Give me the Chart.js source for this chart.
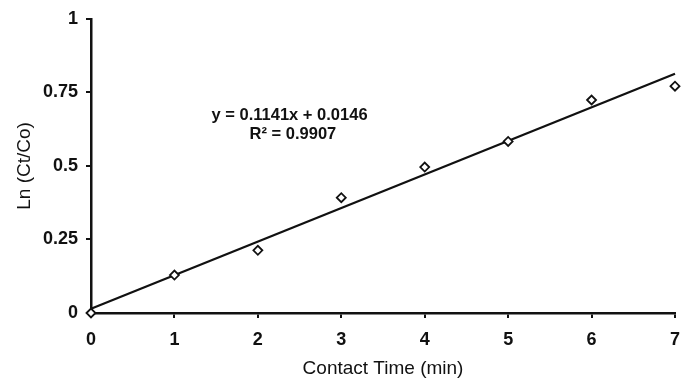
<!DOCTYPE html>
<html>
<head>
<meta charset="utf-8">
<script src="https://cdn.jsdelivr.net/npm/chart.js@4"></script>
<style>
  html, body { margin: 0; padding: 0; background: #fff; }
  #wrap { width: 693px; height: 383px; }
</style>
</head>
<body>
<div id="wrap"><canvas id="kinetics-chart"></canvas></div>
<script>
// contact time (min) and measured Ln(Ct/Co)
var contactTime = [0, 1, 2, 3, 4, 5, 6, 7];
var lnRatio = [0, 0.129, 0.213, 0.392, 0.496, 0.583, 0.724, 0.771];

// linear fit as stated on the chart
var slope = 0.1141;
var intercept = 0.0146;
var rSquared = 0.9907;
var fitRange = [0, 7];

var xTickLabels = ["0", "1", "2", "3", "4", "5", "6", "7"];
var yTickLabels = ["0", "0.25", "0.5", "0.75", "1"];

var points = contactTime.map(function (t, i) { return { x: t, y: lnRatio[i] }; });
var fitLine = fitRange.map(function (t) { return { x: t, y: slope * t + intercept }; });

var eqLines = [
  "y = " + slope + "x + " + intercept,
  "R\u00B2 = " + rSquared
];

// equation text, anchored in data coordinates
var eqPlugin = {
  id: "equation",
  afterDatasetsDraw: function (chart) {
    var c = chart.ctx, xs = chart.scales.x, ys = chart.scales.y;
    c.save();
    c.font = "bold 16.5px 'Liberation Sans', Arial, sans-serif";
    c.fillStyle = "#111";
    c.textAlign = "center";
    c.textBaseline = "middle";
    c.fillText(eqLines[0], xs.getPixelForValue(2.38), ys.getPixelForValue(0.672));
    c.fillText(eqLines[1], xs.getPixelForValue(2.42), ys.getPixelForValue(0.608));
    c.restore();
  }
};

var tickFont = { family: "'Liberation Sans', Arial, sans-serif", size: 18, weight: "bold" };
var titleFont = { family: "'Liberation Sans', Arial, sans-serif", size: 19 };

var ctx = document.getElementById("kinetics-chart").getContext("2d");
new Chart(ctx, {
  type: "scatter",
  data: {
    datasets: [
      {
        label: "Ln (Ct/Co)",
        data: points,
        pointStyle: "rectRot",
        pointRadius: 4.5,
        pointBackgroundColor: "#fff",
        pointBorderColor: "#111",
        pointBorderWidth: 1.8,
        showLine: false,
        clip: false,
        order: 1
      },
      {
        label: "Linear fit",
        data: fitLine,
        type: "line",
        borderColor: "#111",
        borderWidth: 2.3,
        pointRadius: 0,
        fill: false,
        clip: false,
        order: 2
      }
    ]
  },
  options: {
    responsive: true,
    maintainAspectRatio: false,
    animation: false,
    layout: { padding: { top: 15, right: 18, left: 0, bottom: 0 } },
    plugins: {
      legend: { display: false },
      tooltip: { enabled: false }
    },
    scales: {
      x: {
        type: "linear",
        min: 0,
        max: 7,
        afterFit: function (s) { s.height = 70; },
        afterBuildTicks: function (s) {
          s.ticks = xTickLabels.map(function (v) { return { value: parseFloat(v) }; });
        },
        ticks: {
          color: "#111",
          font: tickFont,
          padding: 11,
          maxRotation: 0,
          callback: function (v) { return xTickLabels[xTickLabels.indexOf(String(v))] || v; }
        },
        grid: { drawOnChartArea: false, drawTicks: true, tickLength: 5, color: "#111", lineWidth: 2 },
        border: { display: true, color: "#111", width: 2.5 },
        title: { display: true, text: "Contact Time (min)", color: "#111", font: titleFont, padding: { top: 0, bottom: 3 } }
      },
      y: {
        type: "linear",
        min: 0,
        max: 1,
        afterFit: function (s) { s.width = 91; },
        afterBuildTicks: function (s) {
          s.ticks = yTickLabels.map(function (v) { return { value: parseFloat(v) }; });
        },
        ticks: {
          color: "#111",
          font: tickFont,
          padding: 8,
          callback: function (v) { return yTickLabels[yTickLabels.indexOf(String(v))] || v; }
        },
        grid: { drawOnChartArea: false, drawTicks: true, tickLength: 5, color: "#111", lineWidth: 2 },
        border: { display: true, color: "#111", width: 2.5 },
        title: { display: true, text: "Ln (Ct/Co)", color: "#111", font: titleFont, padding: { top: 13, bottom: 0 } }
      }
    }
  },
  plugins: [eqPlugin]
});
</script>
</body>
</html>
